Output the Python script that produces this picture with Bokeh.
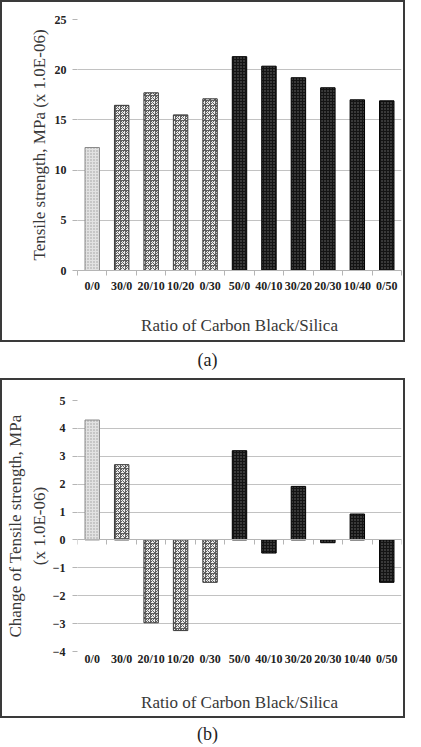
from bokeh.plotting import figure
from bokeh.models import ColumnDataSource, FixedTicker, LinearAxis, Range1d, Div
from bokeh.layouts import column
from bokeh.embed import file_html
from bokeh.resources import INLINE

# ---- data ----
categories = ["0/0", "30/0", "20/10", "10/20", "0/30", "50/0",
              "40/10", "30/20", "20/30", "10/40", "0/50"]
tensile = [12.25, 16.45, 17.7, 15.5, 17.1, 21.3, 20.35, 19.2, 18.2, 17.0, 16.9]
change = [4.3, 2.7, -2.97, -3.25, -1.52, 3.2, -0.47, 1.92, -0.1, 0.93, -1.52]
filler_group = ["none", "30 phr", "30 phr", "30 phr", "30 phr",
                "50 phr", "50 phr", "50 phr", "50 phr", "50 phr", "50 phr"]
tensile_ticks = [0, 5, 10, 15, 20, 25]
change_ticks = [-4, -3, -2, -1, 0, 1, 2, 3, 4, 5]
x_title = "Ratio of Carbon Black/Silica"
y_title_a = "Tensile strength, MPa (x 1.0E-06)"
y_title_b = "Change of Tensile strength, MPa\n(x 1.0E-06)"

FONT = "Liberation Serif"
STYLE = {
    "none":   dict(fill="#e2e2e2", hatch="dot", hcol="#9a9a9a", line="#8a8a8a", scale=3.0),
    "30 phr": dict(fill="#ececec", hatch="criss_cross", hcol="#5e5e5e", line="#3a3a3a", scale=5.0),
    "50 phr": dict(fill="#141414", hatch="dot", hcol="#707070", line="#000000", scale=3.0),
}

positions = list(range(1, len(categories) + 1))
boundaries = [p - 0.5 for p in positions] + [positions[-1] + 0.5]
labels = {p: c for p, c in zip(positions, categories)}
W = 405


def make_source(values):
    return ColumnDataSource(dict(
        x=positions, top=values,
        fill=[STYLE[g]["fill"] for g in filler_group],
        hatch=[STYLE[g]["hatch"] for g in filler_group],
        hcol=[STYLE[g]["hcol"] for g in filler_group],
        line=[STYLE[g]["line"] for g in filler_group],
        scale=[STYLE[g]["scale"] for g in filler_group],
    ))


def base_fig(height, ymin, ymax, yticks, borders):
    left, right, top, bottom = borders
    p = figure(width=W, height=height,
               x_range=Range1d(0.5, len(categories) + 0.5),
               y_range=Range1d(ymin, ymax),
               output_backend="svg", toolbar_location=None,
               min_border_left=left, min_border_right=right,
               min_border_top=top, min_border_bottom=bottom)
    p.styles = {"border": "2px solid #3a3a3a"}
    p.outline_line_color = None
    p.background_fill_color = "white"
    p.border_fill_color = "white"
    p.xgrid.visible = False
    p.ygrid.grid_line_color = "#c2c2c2"
    p.ygrid.grid_line_width = 1
    p.yaxis.ticker = FixedTicker(ticks=yticks)
    p.yaxis.axis_line_color = None
    p.yaxis.major_tick_line_color = "#b5b5b5"
    p.yaxis.major_tick_out = 5
    p.yaxis.major_tick_in = 0
    p.yaxis.minor_tick_line_color = None
    p.yaxis.major_label_text_font = FONT
    p.yaxis.major_label_text_font_style = "bold"
    p.yaxis.major_label_text_font_size = "12px"
    p.yaxis.major_label_text_color = "#222222"
    p.yaxis.axis_label_text_font = FONT
    p.yaxis.axis_label_text_font_style = "normal"
    p.yaxis.axis_label_text_font_size = "17px"
    p.yaxis.axis_label_text_color = "#383838"
    p.xaxis.major_label_overrides = labels
    p.xaxis.major_label_text_font = FONT
    p.xaxis.major_label_text_font_style = "bold"
    p.xaxis.major_label_text_font_size = "12px"
    p.xaxis.major_label_text_color = "#222222"
    p.xaxis.axis_label = x_title
    p.xaxis.axis_label_text_font = FONT
    p.xaxis.axis_label_text_font_style = "normal"
    p.xaxis.axis_label_text_font_size = "17px"
    p.xaxis.axis_label_text_color = "#383838"
    return p


def add_bars(p, values):
    src = make_source(values)
    p.vbar(x="x", top="top", bottom=0, width=0.49, source=src,
           fill_color="fill", line_color="line", line_width=1,
           hatch_pattern="hatch", hatch_color="hcol", hatch_scale="scale",
           hatch_weight=1)


# ---- chart (a) ----
pa = base_fig(342, 0, 25, tensile_ticks, (53, 5, 17, 74))
pa.xaxis.ticker = FixedTicker(ticks=positions, minor_ticks=boundaries)
pa.xaxis.axis_line_color = "#b5b5b5"
pa.xaxis.major_tick_line_color = None
pa.xaxis.major_tick_out = 5
pa.xaxis.major_tick_in = 0
pa.xaxis.minor_tick_line_color = "#b5b5b5"
pa.xaxis.minor_tick_out = 5
pa.xaxis.minor_tick_in = 0
pa.xaxis.major_label_standoff = 3
pa.xaxis.axis_label_standoff = 20
pa.yaxis.axis_label = y_title_a
pa.yaxis.major_label_standoff = 6
pa.yaxis.axis_label_standoff = 3
add_bars(pa, tensile)

# ---- chart (b) ----
pb = base_fig(340, -4, 5, change_ticks, (66, 6, 20, 69))
pb.xaxis.ticker = FixedTicker(ticks=positions)
pb.xaxis.axis_line_color = None
pb.xaxis.major_tick_line_color = None
pb.xaxis.minor_tick_line_color = None
pb.xaxis.major_tick_out = 0
pb.xaxis.major_label_standoff = 0
pb.xaxis.axis_label_standoff = 24
zero_axis = LinearAxis(fixed_location=0,
                       ticker=FixedTicker(ticks=[], minor_ticks=boundaries),
                       axis_line_color="#b5b5b5",
                       major_tick_line_color=None,
                       minor_tick_line_color="#b5b5b5",
                       minor_tick_out=5, minor_tick_in=0,
                       major_label_text_font_size="0px")
pb.add_layout(zero_axis, "below")
pb.yaxis.axis_label = y_title_b
pb.yaxis.axis_label_text_line_height = 1.25
pb.yaxis.major_label_standoff = 7
pb.yaxis.axis_label_standoff = 1
add_bars(pb, change)

cap_style = {"font-family": FONT, "font-size": "18px", "color": "#222",
             "text-align": "center", "width": "100%"}
cap_a = Div(text="(a)", width=W, height=26,
            styles=dict(cap_style, **{"line-height": "26px"}))
cap_b = Div(text="(b)", width=W, height=23,
            styles=dict(cap_style, **{"line-height": "23px"}))

layout = column(pa, cap_a, pb, cap_b, spacing=0)
open("out.html", "w").write(file_html(layout, INLINE))
